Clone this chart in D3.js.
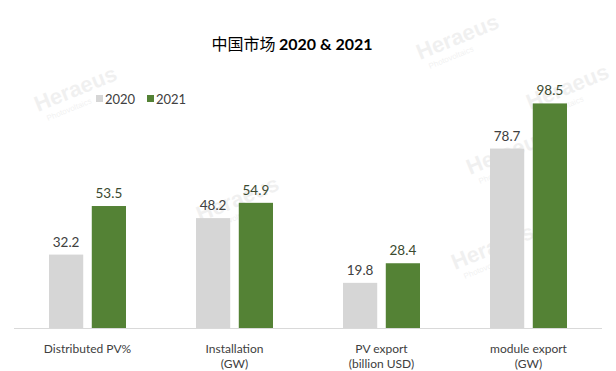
<!DOCTYPE html>
<html><head><meta charset="utf-8">
<script src="https://cdn.jsdelivr.net/npm/d3@7"></script>
<style>body{margin:0;background:#fff}</style>
</head><body>
<script>
const categories = [["Distributed PV%"], ["Installation", "(GW)"], ["PV export", "(billion USD)"], ["module export", "(GW)"]];
const seriesNames = ["2020", "2021"];
const values2020 = [32.2, 48.2, 19.8, 78.7];
const values2021 = [53.5, 54.9, 28.4, 98.5];
const colors = ["#d6d6d6", "#548235"];
const labelColors = ["#404040", "#3b4a30"];

const W = 616, H = 371;
const svg = d3.select("body").append("svg").attr("width", W).attr("height", H);
const font = "Lato, 'Open Sans', sans-serif";

const x0 = d3.scaleBand().domain(d3.range(categories.length)).range([14, 602]).paddingInner(0).paddingOuter(0);
const x1 = d3.scaleBand().domain(seriesNames).range([35, 112]).paddingInner(0.2);
const y = d3.scaleLinear().domain([0, 100]).range([328, 100]);

// faint watermarks
const wm = [[38,112],[200,222],[420,60],[455,270],[530,110],[470,175]];
wm.forEach(([wx,wy]) => {
  const g = svg.append("g").attr("transform", `translate(${wx},${wy}) rotate(-22)`).attr("opacity", 0.1);
  g.append("text").text("Heraeus").attr("font-family","Liberation Sans, sans-serif").attr("font-size",22).attr("fill","#777").attr("font-weight","bold");
  g.append("text").text("Photovoltaics").attr("y",12).attr("x",6).attr("font-family","Liberation Sans, sans-serif").attr("font-size",8).attr("fill","#777");
});

// axis line
svg.append("line").attr("x1", 14).attr("x2", 602).attr("y1", y(0) + 0.5).attr("y2", y(0) + 0.5).attr("stroke", "#d9d9d9").attr("stroke-width", 1);

const data = [values2020, values2021];
categories.forEach((c, i) => {
  const g = svg.append("g").attr("transform", `translate(${x0(i)},0)`);
  seriesNames.forEach((s, j) => {
    const v = data[j][i];
    g.append("rect").attr("x", x1(s)).attr("y", y(v)).attr("width", x1.bandwidth()).attr("height", y(0) - y(v)).attr("fill", colors[j]);
    g.append("text").attr("x", x1(s) + x1.bandwidth() / 2).attr("y", y(v) - 8).attr("text-anchor", "middle")
      .attr("font-family", font).attr("font-size", 13.5).attr("fill", labelColors[j]).text(v.toFixed(1));
  });
  c.forEach((line, k) => {
    g.append("text").attr("x", x0.bandwidth() / 2).attr("y", 353 + k * 15).attr("text-anchor", "middle")
      .attr("font-family", font).attr("font-size", 12).attr("fill", "#404040").text(line);
  });
});

// title
const t = svg.append("text").attr("x", 292).attr("y", 50).attr("text-anchor", "middle").attr("fill", "#000");
t.append("tspan").attr("font-family", "'Noto Sans CJK SC', sans-serif").attr("font-size", 16).text("中国市场 ");
t.append("tspan").attr("font-family", font).attr("font-weight", "bold").attr("font-size", 16).text("2020 & 2021");

// legend
const lg = svg.append("g");
seriesNames.forEach((s, j) => {
  const lx = j === 0 ? 96 : 147;
  lg.append("rect").attr("x", lx).attr("y", 95).attr("width", 7).attr("height", 7).attr("fill", colors[j]);
  lg.append("text").attr("x", lx + 9).attr("y", 103.5).attr("font-family", font).attr("font-size", 13).attr("fill", "#404040").text(s);
});
</script>
</body></html>
